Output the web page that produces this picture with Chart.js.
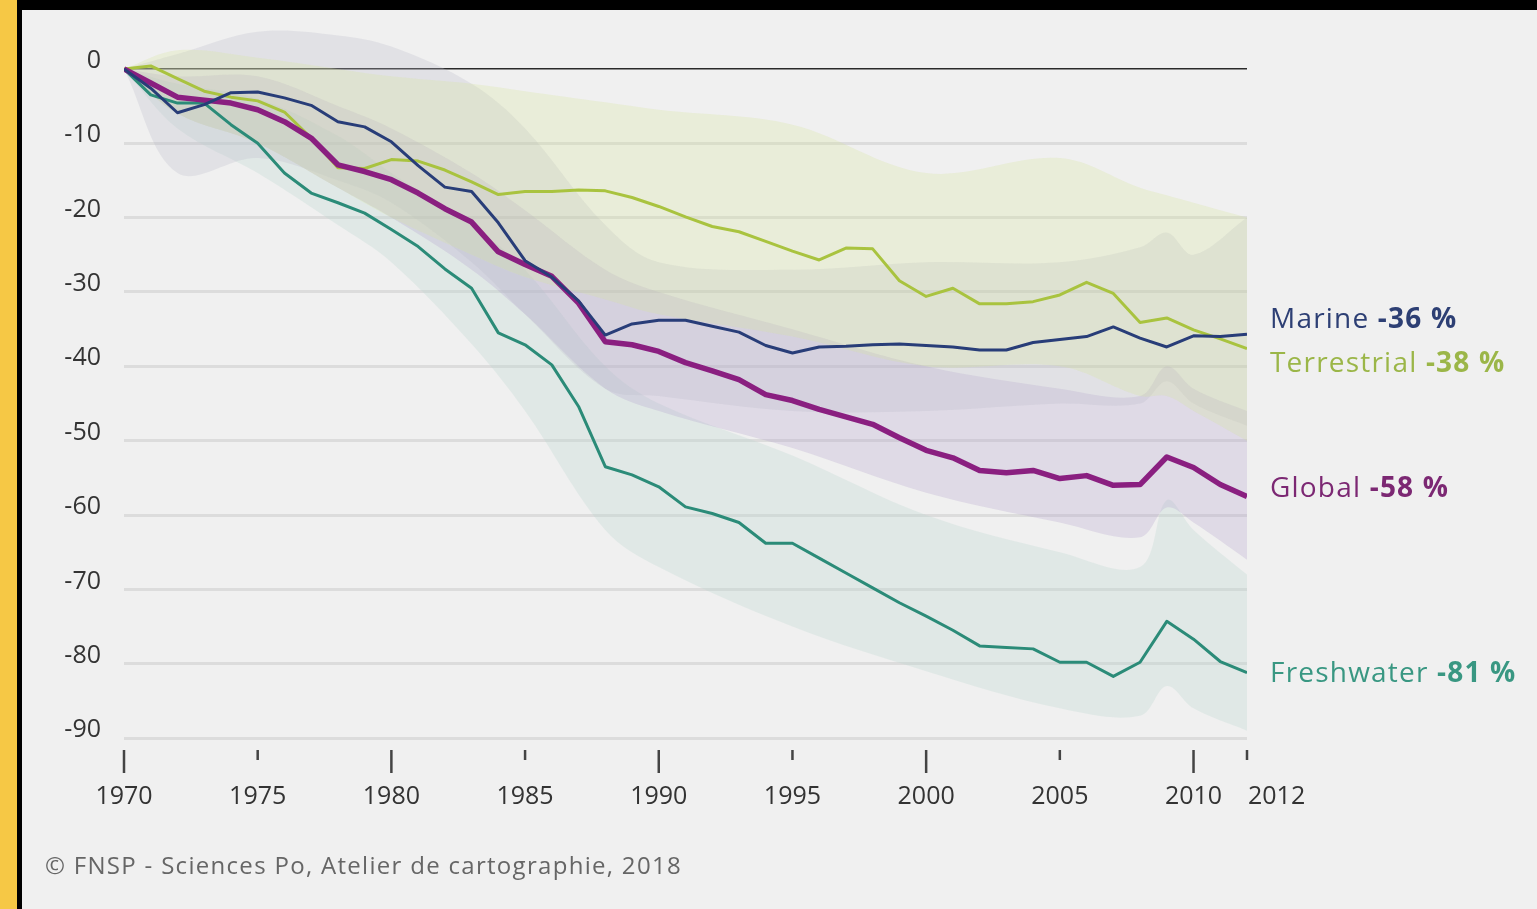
<!DOCTYPE html>
<html>
<head>
<meta charset="utf-8">
<script src="https://cdn.jsdelivr.net/npm/chart.js@4"></script>
<style>
  html, body { margin: 0; padding: 0; background: #000; }
  #frame { position: absolute; left: 0; top: 0; width: 1537px; height: 909px; background: #000; overflow: hidden; }
  #yellow { position: absolute; left: 0; top: 0; width: 17px; height: 909px; background: #f6c845; }
  #panel { position: absolute; left: 22px; top: 10px; width: 1515px; height: 899px; background: #f0f0f0; }
  #wrap { position: absolute; left: 0; top: 0; width: 1537px; height: 909px; }
  #credit { position: absolute; left: 45px; top: 848px; font: 24px "Open Sans", sans-serif; color: #666; letter-spacing: 1.3px; }
</style>
</head>
<body>
<div id="frame">
  <div id="yellow"></div>
  <div id="panel"></div>
  <div id="wrap"><canvas id="chart"></canvas></div>
  <div id="credit">© FNSP - Sciences Po, Atelier de cartographie, 2018</div>
</div>
<script>
const years = [1970, 1971, 1972, 1973, 1974, 1975, 1976, 1977, 1978, 1979,
  1980, 1981, 1982, 1983, 1984, 1985, 1986, 1987, 1988, 1989,
  1990, 1991, 1992, 1993, 1994, 1995, 1996, 1997, 1998, 1999,
  2000, 2001, 2002, 2003, 2004, 2005, 2006, 2007, 2008, 2009,
  2010, 2011, 2012]

const marine = [0, -2.6, -5.9, -4.8, -3.2, -3.1, -3.9, -4.9, -7.1, -7.8,
  -9.8, -13.0, -15.9, -16.5, -20.7, -25.8, -28.0, -31.2, -35.8, -34.3,
  -33.8, -33.8, -34.6, -35.4, -37.2, -38.2, -37.4, -37.3, -37.1, -37.0,
  -37.2, -37.4, -37.8, -37.8, -36.8, -36.4, -36.0, -34.7, -36.2, -37.4,
  -35.9, -36.0, -35.7]
const terrestrial = [0, 0.4, -1.3, -3.0, -3.8, -4.3, -5.8, -9.3, -13.3, -13.4,
  -12.2, -12.4, -13.6, -15.2, -16.9, -16.5, -16.5, -16.3, -16.4, -17.3,
  -18.5, -19.9, -21.2, -21.9, -23.2, -24.5, -25.7, -24.1, -24.2, -28.5,
  -30.6, -29.5, -31.6, -31.6, -31.3, -30.4, -28.7, -30.2, -34.1, -33.5,
  -35.1, -36.3, -37.6]
const global = [0, -1.9, -3.8, -4.2, -4.6, -5.5, -7.1, -9.3, -12.9, -13.8,
  -14.9, -16.7, -18.8, -20.6, -24.6, -26.3, -27.9, -31.5, -36.7, -37.1,
  -38.0, -39.5, -40.6, -41.8, -43.8, -44.6, -45.8, -46.8, -47.8, -49.6,
  -51.3, -52.3, -54.0, -54.3, -54.0, -55.1, -54.7, -56.0, -55.9, -52.2,
  -53.6, -55.9, -57.5]
const freshwater = [0, -3.5, -4.6, -4.6, -7.5, -10.0, -14.0, -16.7, -18.0, -19.4,
  -21.6, -23.9, -26.9, -29.5, -35.5, -37.1, -39.8, -45.4, -53.5, -54.6,
  -56.2, -58.9, -59.8, -61.0, -63.8, -63.8, -65.8, -67.8, -69.8, -71.8,
  -73.6, -75.5, -77.6, -77.8, -78.0, -79.8, -79.8, -81.7, -79.8, -74.3,
  -76.7, -79.7, -81.2]

// confidence bands, read at a few years only
const bandYears = [1970, 1972, 1975, 1978, 1980, 1983, 1985, 1988, 1990, 1995, 2000, 2005, 2008, 2009, 2010, 2012]
const marineUpper = [0, 2, 5, 4.5, 3, -2, -8, -21, -26, -27, -26, -26, -24, -22, -25, -20]
const marineLower = [0, -14, -12, -15, -18, -26, -33, -43, -44, -46, -46, -45, -45, -42, -45, -48]
const terrUpper = [0, 2.5, 1.5, 0, -1, -2, -3, -4.5, -5.5, -7.5, -14, -12, -16, -17, -18, -20]
const terrLower = [0, -6, -10, -16, -20, -25, -28, -31, -33, -36, -40, -40, -44, -44, -46, -50]
const globalUpper = [0, -1, -1, -5, -8, -14, -19, -27, -30, -35, -40, -43, -44, -40, -43, -46]
const globalLower = [0, -6, -10, -16, -20, -27, -33, -43, -46, -51, -57, -61, -63, -59, -61, -66]
const freshUpper = [0, -2, -4, -9, -14, -21, -27, -40, -45, -52, -60, -65, -67, -58, -62, -68]
const freshLower = [0, -8, -14, -21, -26, -37, -46, -62, -67, -75, -81, -86, -87, -83, -86, -89]

const yTicks = [0, -10, -20, -30, -40, -50, -60, -70, -80, -90]
const xTickYears = [1970, 1975, 1980, 1985, 1990, 1995, 2000, 2005, 2010, 2012]
const xMajorYears = [1970, 1980, 1990, 2000, 2010]

const seriesNames = ['Marine', 'Terrestrial', 'Global', 'Freshwater']
const seriesChanges = ['-36 %', '-38 %', '-58 %', '-81 %']
const labelValues = [-33.8, -39.7, -56.5, -81.4]
const labelColors = ['#2d3f74', '#9bb648', '#7c2873', '#399782']

const toXY = (xs, ys) => xs.map((x, i) => ({ x: x, y: ys[i] }))

function band(upper, lower, color) {
  return [
    { data: toXY(bandYears, upper), fill: '+1', backgroundColor: color, borderWidth: 0, pointRadius: 0, tension: 0.35, order: 10 },
    { data: toXY(bandYears, lower), fill: false, borderWidth: 0, pointRadius: 0, tension: 0.35, order: 10 },
  ]
}

function line(values, color, width, order) {
  return { data: toXY(years, values), borderColor: color, borderWidth: width, pointRadius: 0, fill: false, tension: 0, borderJoinStyle: 'round', order: order }
}

const decorations = {
  id: 'decorations',
  afterDraw(chart) {
    const ctx = chart.ctx
    const x = chart.scales.x
    const y = chart.scales.y
    const bottom = chart.chartArea.bottom
    ctx.save()
    // x ticks and labels
    ctx.strokeStyle = '#444'
    ctx.lineWidth = 2.5
    ctx.fillStyle = '#333'
    ctx.font = '500 25px "Open Sans", sans-serif'
    ctx.textBaseline = 'middle'
    xTickYears.forEach((yr, i) => {
      const px = x.getPixelForValue(yr)
      const len = xMajorYears.includes(yr) ? 23 : 10
      ctx.beginPath()
      ctx.moveTo(px, bottom)
      ctx.lineTo(px, bottom + len)
      ctx.stroke()
      const last = i === xTickYears.length - 1
      ctx.textAlign = last ? 'left' : 'center'
      ctx.fillText(String(yr), last ? px + 1 : px, bottom + 47)
    })
    // series labels at right
    ctx.textAlign = 'left'
    ctx.letterSpacing = '1.2px'
    seriesNames.forEach((name, i) => {
      const py = y.getPixelForValue(labelValues[i])
      ctx.fillStyle = labelColors[i]
      ctx.font = '500 28px "Open Sans", sans-serif'
      const lx = chart.chartArea.right + 23
      ctx.fillText(name, lx, py)
      const w = ctx.measureText(name + ' ').width
      ctx.font = 'bold 28px "Open Sans", sans-serif'
      ctx.fillText(seriesChanges[i], lx + w, py)
    })
    ctx.restore()
  },
}

new Chart(document.getElementById('chart'), {
  type: 'line',
  data: {
    datasets: [
      ...band(terrUpper, terrLower, 'rgba(212,228,150,0.26)'),
      ...band(marineUpper, marineLower, 'rgba(185,185,200,0.28)'),
      ...band(globalUpper, globalLower, 'rgba(170,150,200,0.25)'),
      ...band(freshUpper, freshLower, 'rgba(190,215,210,0.3)'),
      line(terrestrial, '#a9c33f', 3, 4),
      line(freshwater, '#2b8b78', 3, 3),
      line(global, '#8a1f80', 5.5, 2),
      line(marine, '#283d78', 3, 1),
    ],
  },
  plugins: [decorations],
  options: {
    responsive: true,
    maintainAspectRatio: false,
    animation: false,
    layout: { padding: { left: 24, right: 290, top: 28, bottom: 159 } },
    plugins: { legend: { display: false }, tooltip: { enabled: false } },
    scales: {
      x: {
        type: 'linear',
        min: 1970,
        max: 2012,
        display: false,
      },
      y: {
        min: -91.6,
        max: 5.5,
        afterFit: (scale) => {
          scale.width = 100
          scale.paddingTop = 0
          scale.paddingBottom = 0
        },
        afterBuildTicks: (scale) => { scale.ticks = yTicks.map(v => ({ value: v })) },
        border: { display: false },
        grid: {
          drawTicks: false,
          color: (c) => (c.tick && c.tick.value === 0 ? '#2a2a2a' : '#dcdcdc'),
          lineWidth: (c) => (c.tick && c.tick.value === 0 ? 1.5 : 3),
        },
        ticks: {
          padding: 23,
          labelOffset: -8,
          color: '#333',
          font: { family: '"Open Sans", sans-serif', size: 25, weight: '500' },
        },
      },
    },
  },
})
</script>
</body>
</html>
